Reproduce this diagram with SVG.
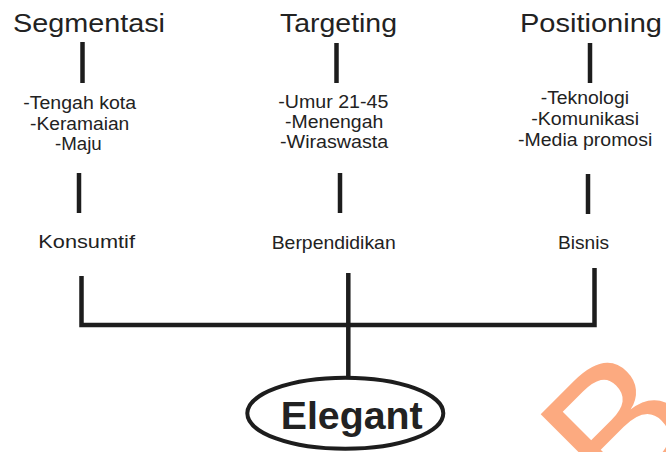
<svg xmlns="http://www.w3.org/2000/svg" width="666" height="452" viewBox="0 0 666 452">
<style>
.t{font-family:"Liberation Sans",Arial,sans-serif;fill:#222;}
.title{font-size:26px;}
.item{font-size:17.5px;}
.lbl{font-size:19px;}
.bar{stroke:#1d1d1d;stroke-width:4.5;fill:none;}
</style>
<rect width="666" height="452" fill="#fff"/>
<text transform="translate(620,515) rotate(-45)" font-family="Liberation Sans,Arial,sans-serif" font-size="185" fill="#FCAA80">B</text>
<g id="segmentasi">
<text class="t title" x="13" y="32" textLength="152" lengthAdjust="spacingAndGlyphs">Segmentasi</text>
<text class="t item" x="23.3" y="109" textLength="112.7" lengthAdjust="spacingAndGlyphs">-Tengah kota</text>
<text class="t item" x="30" y="130" textLength="99.3" lengthAdjust="spacingAndGlyphs">-Keramaian</text>
<text class="t item" x="55" y="150" textLength="46.7" lengthAdjust="spacingAndGlyphs">-Maju</text>
<text class="t lbl" x="38.3" y="248" textLength="96.7" lengthAdjust="spacingAndGlyphs">Konsumtif</text>
</g>
<g id="targeting">
<text class="t title" x="280" y="32" textLength="117" lengthAdjust="spacingAndGlyphs">Targeting</text>
<text class="t item" x="278.3" y="107.5" textLength="110" lengthAdjust="spacingAndGlyphs">-Umur 21-45</text>
<text class="t item" x="285" y="127.5" textLength="98.3" lengthAdjust="spacingAndGlyphs">-Menengah</text>
<text class="t item" x="280" y="147.5" textLength="108.3" lengthAdjust="spacingAndGlyphs">-Wiraswasta</text>
<text class="t lbl" x="271.7" y="249" textLength="124" lengthAdjust="spacingAndGlyphs">Berpendidikan</text>
</g>
<g id="positioning">
<text class="t title" x="520" y="32" textLength="142" lengthAdjust="spacingAndGlyphs">Positioning</text>
<text class="t item" x="540.7" y="104" textLength="88.3" lengthAdjust="spacingAndGlyphs">-Teknologi</text>
<text class="t item" x="531.3" y="125" textLength="107.7" lengthAdjust="spacingAndGlyphs">-Komunikasi</text>
<text class="t item" x="518" y="146" textLength="134.3" lengthAdjust="spacingAndGlyphs">-Media promosi</text>
<text class="t lbl" x="558" y="249" textLength="51" lengthAdjust="spacingAndGlyphs">Bisnis</text>
</g>
<g id="connectors">
<line class="bar" x1="82.5" y1="42" x2="82.5" y2="83"/>
<line class="bar" x1="79" y1="173" x2="79" y2="213"/>
<line class="bar" x1="336.5" y1="43" x2="336.5" y2="83"/>
<line class="bar" x1="340" y1="173" x2="340" y2="213"/>
<line class="bar" x1="590" y1="43" x2="590" y2="83"/>
<line class="bar" x1="588" y1="174" x2="588" y2="214"/>
<path class="bar" d="M81.5,276 V325 H594.5 V268"/>
<line class="bar" x1="348.3" y1="273" x2="348.3" y2="378"/>
</g>
<g id="elegant">
<ellipse cx="345.3" cy="413.3" rx="98" ry="35.5" fill="#fff" stroke="#1d1d1d" stroke-width="4"/>
<text class="t" x="280.7" y="428.5" font-size="39" font-weight="bold" textLength="142" lengthAdjust="spacingAndGlyphs">Elegant</text>
</g>
</svg>
